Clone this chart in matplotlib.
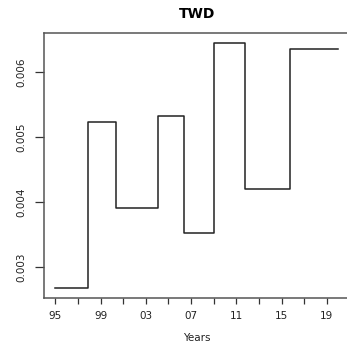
import matplotlib
matplotlib.use("Agg")
import matplotlib.pyplot as plt

# change-point segments of the TWD series (start year, level)
years = [1995.0, 1997.9, 2000.4, 2004.05, 2006.4, 2009.0, 2011.8, 2015.7, 2020.0]
levels = [0.00267, 0.00523, 0.0039, 0.00532, 0.00352, 0.00645, 0.0042, 0.00636, 0.00636]

xticks = list(range(1995, 2020, 2))
xlabels = ["95", "", "99", "", "03", "", "07", "", "11", "", "15", "", "19"]
yticks = [0.003, 0.004, 0.005, 0.006]
ylabels = ["0.003", "0.004", "0.005", "0.006"]

plt.rcParams["font.family"] = ["DejaVu Sans"]

W, H = 347, 349
fig = plt.figure(figsize=(W / 100, H / 100), dpi=100)
ax = fig.add_axes([44 / W, (H - 298) / H, 305.5 / W, (298 - 33) / H])

ax.step(years, levels, where="post", color="#222222", lw=1.1)

ax.set_xlim(1994, 2021)
ax.set_ylim(0.00252, 0.0066)

ax.set_xticks(xticks)
ax.set_xticklabels(xlabels, fontsize=7.5, color="#222222")
ax.set_yticks(yticks)
ax.set_yticklabels(ylabels, fontsize=7.5, color="#222222", rotation=90, va="center")

ax.tick_params(axis="x", length=4.3, width=0.9, pad=5, color="#333333")
ax.tick_params(axis="y", length=6.5, width=0.9, pad=6.5, color="#333333")

for s in ax.spines.values():
    s.set_color("#555555")
    s.set_linewidth(1.1)

ax.set_title("TWD", fontsize=10, fontweight="bold", pad=11)
ax.set_xlabel("Years", fontsize=7.5, labelpad=9, color="#222222")

fig.savefig("out.png", dpi=100)
